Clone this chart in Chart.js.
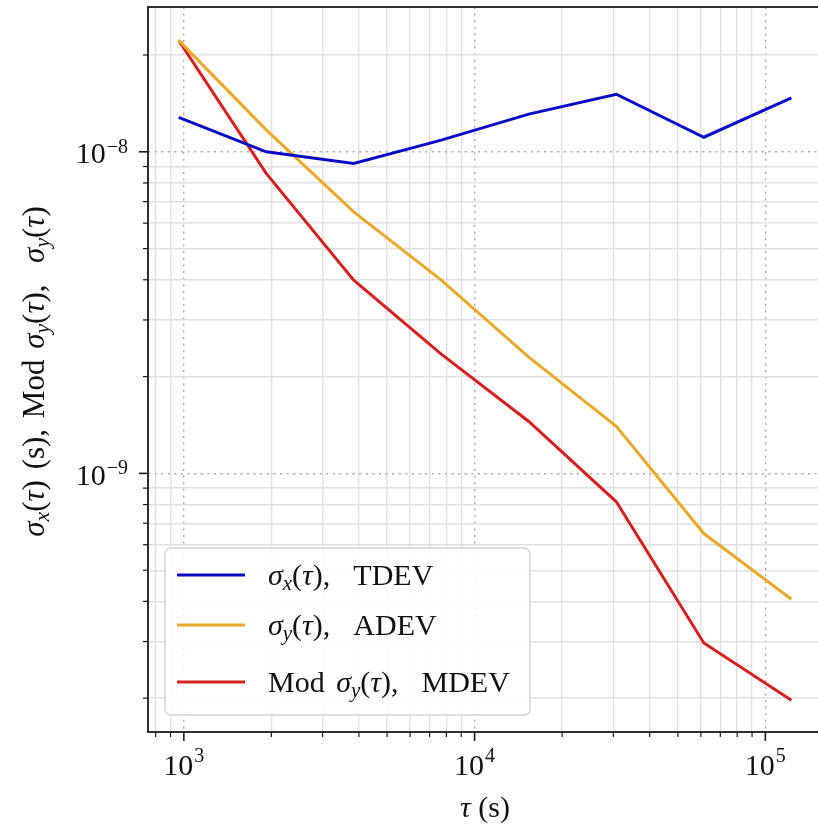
<!DOCTYPE html>
<html>
<head>
<meta charset="utf-8">
<title>TDEV / ADEV / MDEV</title>
<script src="https://cdn.jsdelivr.net/npm/chart.js@4.4.1/dist/chart.umd.min.js"></script>
<style>
  html, body { margin: 0; padding: 0; background: #fff; overflow: hidden; }
  #wrap { width: 830px; height: 830px; }
</style>
</head>
<body>
<div id="wrap"><canvas id="devChart" width="830" height="830"></canvas></div>
<script>
// data (tau in seconds)
const tau  = [960, 1920, 3840, 7680, 15360, 30720, 61440, 122880];
const tdev = [1.28e-8, 1.0e-8, 9.2e-9, 1.087e-8, 1.31e-8, 1.51e-8, 1.11e-8, 1.47e-8];
const adev = [2.22e-8, 1.17e-8, 6.5e-9, 3.99e-9, 2.3e-9, 1.40e-9, 6.5e-10, 4.06e-10];
const mdev = [2.22e-8, 8.57e-9, 3.99e-9, 2.35e-9, 1.45e-9, 8.16e-10, 2.97e-10, 1.97e-10];

const seriesLabels = ['σ_x(τ),  TDEV', 'σ_y(τ),  ADEV', 'Mod σ_y(τ),  MDEV'];
const seriesColors = ['#0a0ac6', '#eca828', '#d42020'];

const xTickValues = [1e3, 1e4, 1e5];
const yTickValues = [1e-9, 1e-8];
const xTitle = 'τ (s)';
const yTitle = 'σ_x(τ) (s), Mod σ_y(τ),  σ_y(τ)';

const FONT = '"Liberation Serif", "Times New Roman", serif';

// 1..9 x 10^n inside the axis range
function decadeTicks(min, max) {
    const out = [];
    for (let e = Math.floor(Math.log10(min)); e <= Math.ceil(Math.log10(max)); e++) {
        for (let k = 1; k <= 9; k++) {
            const v = Number(k + 'e' + e);
            if (v >= min && v <= max) out.push({ value: v, major: k === 1 });
        }
    }
    return out;
}

// tiny mathtext: "_c" = italic subscript, greek letters italic
function parseRich(str) {
    const segs = [];
    for (let i = 0; i < str.length; i++) {
        let ch = str[i], sub = false;
        if (ch === '_') { sub = true; ch = str[++i]; }
        const it = sub || 'στ'.includes(ch);
        const last = segs[segs.length - 1];
        if (last && last.it === it && last.sub === sub) last.t += ch;
        else segs.push({ t: ch, it: it, sub: sub });
    }
    return segs;
}

function segFont(s, size) {
    return (s.it ? 'italic ' : '') + (s.sub ? size * 0.7 : size) + 'px ' + FONT;
}

function drawRich(ctx, str, x, y, size, align, gap) {
    const segs = parseRich(str);
    ctx.wordSpacing = (gap || 0) + 'px';
    let w = 0;
    segs.forEach(s => { ctx.font = segFont(s, size); w += ctx.measureText(s.t).width; });
    let cx = align === 'center' ? x - w / 2 : x;
    ctx.textAlign = 'left';
    ctx.textBaseline = 'alphabetic';
    segs.forEach(s => {
        ctx.font = segFont(s, size);
        ctx.fillText(s.t, cx, s.sub ? y + size * 0.16 : y);
        cx += ctx.measureText(s.t).width;
    });
    ctx.wordSpacing = '0px';
}

function supLabel(v) {
    return String(Math.round(Math.log10(v))).replace('-', '\u2212');
}

const decor = {
    id: 'decor',
    afterDatasetsDraw(chart) {
        const { ctx, chartArea: a } = chart;
        // legend box, lower left inside the axes
        const bx = a.left + 17, by = a.bottom - 184, bw = 365, bh = 167;
        ctx.save();
        ctx.beginPath();
        ctx.roundRect(bx, by, bw, bh, 6);
        ctx.fillStyle = 'rgba(255,255,255,0.85)';
        ctx.fill();
        ctx.strokeStyle = '#d4d4d4';
        ctx.lineWidth = 1.5;
        ctx.stroke();
        const rows = [27, 77, 134];
        chart.data.datasets.forEach((ds, i) => {
            const ly = by + rows[i];
            ctx.beginPath();
            ctx.moveTo(bx + 12, ly);
            ctx.lineTo(bx + 80, ly);
            ctx.strokeStyle = ds.borderColor;
            ctx.lineWidth = 3;
            ctx.stroke();
            ctx.fillStyle = '#111';
            drawRich(ctx, ds.label, bx + 103, ly + 10, 30, 'left', 4);
        });
        ctx.restore();
    },
    afterDraw(chart) {
        const { ctx, chartArea: a, scales } = chart;
        ctx.save();
        ctx.strokeStyle = '#1a1a1a';
        ctx.fillStyle = '#111';
        // tick marks outside the frame
        scales.x.ticks.forEach(t => {
            const px = scales.x.getPixelForValue(t.value);
            ctx.lineWidth = t.major ? 1.6 : 1.2;
            ctx.beginPath();
            ctx.moveTo(px, a.bottom);
            ctx.lineTo(px, a.bottom + (t.major ? 9 : 5));
            ctx.stroke();
        });
        scales.y.ticks.forEach(t => {
            const py = scales.y.getPixelForValue(t.value);
            ctx.lineWidth = t.major ? 1.6 : 1.2;
            ctx.beginPath();
            ctx.moveTo(a.left, py);
            ctx.lineTo(a.left - (t.major ? 9 : 5), py);
            ctx.stroke();
        });
        // frame
        ctx.lineWidth = 1.8;
        ctx.strokeRect(a.left, a.top, a.right - a.left, a.bottom - a.top);

        // tick labels 10^n
        xTickValues.forEach(v => {
            const px = scales.x.getPixelForValue(v);
            ctx.font = '30px ' + FONT;
            const w1 = ctx.measureText('10').width;
            ctx.font = '20px ' + FONT;
            const w2 = ctx.measureText(supLabel(v)).width;
            const x0 = px - (w1 + w2 + 1) / 2;
            ctx.textAlign = 'left';
            ctx.textBaseline = 'alphabetic';
            ctx.font = '30px ' + FONT;
            ctx.fillText('10', x0, a.bottom + 43);
            ctx.font = '20px ' + FONT;
            ctx.fillText(supLabel(v), x0 + w1 + 1, a.bottom + 30);
        });
        yTickValues.forEach(v => {
            const py = scales.y.getPixelForValue(v);
            ctx.textBaseline = 'alphabetic';
            ctx.textAlign = 'right';
            ctx.font = '20px ' + FONT;
            const w2 = ctx.measureText(supLabel(v)).width;
            const xr = a.left - 20;
            ctx.fillText(supLabel(v), xr, py + 1);
            ctx.font = '30px ' + FONT;
            ctx.fillText('10', xr - w2 - 1, py + 11.5);
        });

        // axis titles
        drawRich(ctx, xTitle, (a.left + a.right) / 2, 817, 30, 'center', 0);
        ctx.translate(44, (a.top + a.bottom) / 2 + 2);
        ctx.rotate(-Math.PI / 2);
        drawRich(ctx, yTitle, 0, 0, 31, 'center', 3);
        ctx.restore();
    }
};

const values = [tdev, adev, mdev];
const datasets = values.map((arr, i) => ({
    label: seriesLabels[i],
    data: tau.map((t, j) => ({ x: t, y: arr[j] })),
    borderColor: seriesColors[i],
    backgroundColor: seriesColors[i],
    borderWidth: 3,
    pointRadius: 0,
    tension: 0
}));

const gridOpts = {
    drawTicks: false,
    color: c => (c.tick && c.tick.major) ? '#a6a6a6' : '#e0e0e0',
    lineWidth: c => (c.tick && c.tick.major) ? 1.4 : 1.4
};
const borderOpts = {
    display: false,
    dash: c => (c.tick && c.tick.major) ? [2, 4.6] : []
};

new Chart(document.getElementById('devChart'), {
    type: 'line',
    data: { datasets: datasets },
    options: {
        responsive: false,
        animation: false,
        layout: { padding: { top: 7, right: 8, left: 0, bottom: 0 } },
        plugins: { legend: { display: false }, tooltip: { enabled: false } },
        scales: {
            x: {
                type: 'logarithmic',
                min: 753,
                max: 156600,
                afterBuildTicks: s => { s.ticks = decadeTicks(s.min, s.max); },
                afterFit: s => { s.height = 98; },
                ticks: { display: false },
                grid: gridOpts,
                border: borderOpts
            },
            y: {
                type: 'logarithmic',
                min: 1.57e-10,
                max: 2.82e-8,
                afterBuildTicks: s => { s.ticks = decadeTicks(s.min, s.max); },
                afterFit: s => { s.width = 148; },
                ticks: { display: false },
                grid: gridOpts,
                border: borderOpts
            }
        }
    },
    plugins: [decor]
});
</script>
</body>
</html>
